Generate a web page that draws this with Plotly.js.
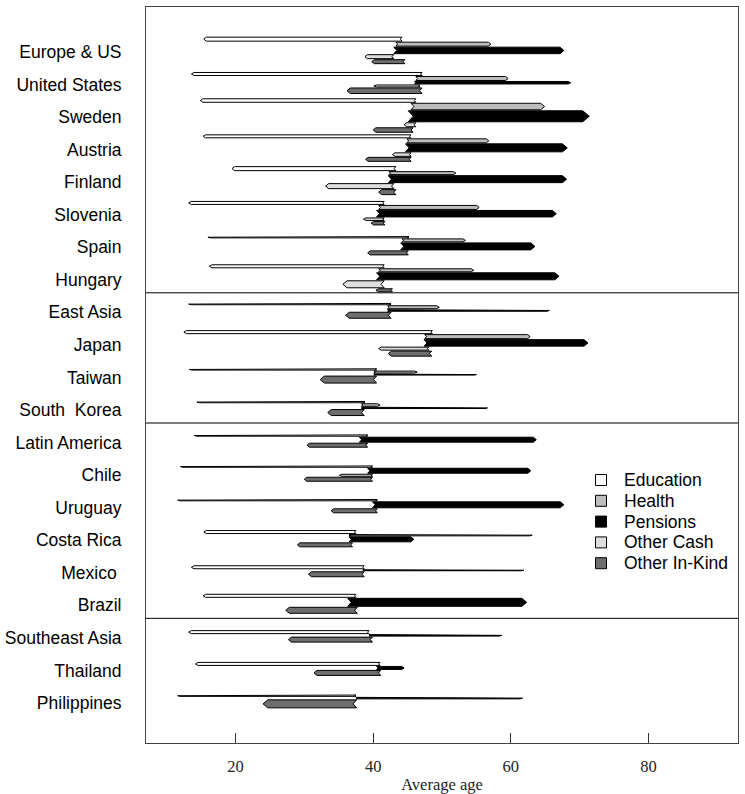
<!DOCTYPE html>
<html>
<head>
<meta charset="utf-8">
<script src="https://cdn.plot.ly/plotly-3.0.1.min.js"></script>
<style>html,body{margin:0;padding:0;background:#fff;}</style>
</head>
<body>
<div id="chart" style="width:745px;height:794px;"></div>
<script>
// ---- Data ----
const countries = ['Europe & US','United States','Sweden','Austria','Finland','Slovenia','Spain','Hungary',
  'East Asia','Japan','Taiwan','South\u00a0\u00a0Korea',
  'Latin America','Chile','Uruguay','Costa Rica','Mexico\u00a0','Brazil',
  'Southeast Asia','Thailand','Philippines'];
const groupEnds = [7, 11, 17]; // last row index of each region block

const categories = ['Education','Health','Pensions','Other Cash','Other In-Kind'];

// mean age of payers (arrow tail), mean age of recipients (arrow head), flow size
const eduFrom = [44.2,47.1,46.2,45.5,43.3,41.6,45.2,41.6,42.6,48.6,40.5,38.8,39.2,39.9,40.6,37.5,38.7,37.5,39.4,41.0,37.5];
const eduTo   = [15.4,13.6,14.9,15.3,19.5,13.2,16.0,16.2,13.2,12.5,13.3,14.4,14.0,12.0,11.6,15.4,13.6,15.3,13.2,14.2,11.6];
const eduFlow = [4,3,3.5,3,4,3,1.3,3,1.3,3,1.3,1.3,1.3,1.3,1.3,3,3,3,3,3,1.3];

const hlthFrom = [43.3,46.2,45.5,44.9,42.3,40.8,44.2,40.8,42.1,47.5,40.1,38.3,null,null,null,36.5,null,null,null,null,null];
const hlthTo   = [57.1,59.6,64.9,56.8,52.0,55.4,53.4,54.6,49.6,62.8,46.4,41.0,null,null,null,63.1,null,null,null,null,null];
const hlthFlow = [4,4,6.5,4,3,4,3,3,3,4,2,2.5,null,null,null,1.3,null,null,null,null,null];

const penFrom = [43.0,46.0,45.1,44.7,42.2,40.5,44.0,40.5,42.1,47.4,40.1,38.3,38.0,39.2,39.9,36.5,38.5,36.3,39.4,40.5,37.5];
const penTo   = [67.7,68.7,71.4,68.2,68.1,66.6,63.5,67.0,65.6,71.2,55.0,56.6,63.7,62.9,67.7,45.9,61.9,62.3,58.7,44.5,61.7];
const penFlow = [6.5,2.5,11,8,7,6.5,7,7,1.5,6.5,1.0,1.3,5,5,6,5,1.0,8,1.5,3,1.5];

const ocFrom = [43.0,46.8,46.2,45.5,43.0,41.6,null,41.6,null,48.1,null,null,null,39.9,null,null,null,null,null,null,null];
const ocTo   = [38.8,40.1,44.5,42.8,33.1,38.6,null,35.6,null,40.8,null,null,null,35.1,null,null,null,null,null,null,null];
const ocFlow = [4,2,4,3.5,5,2.5,null,7,null,3,null,null,null,2,null,null,null,null,null,null,null];

const oikFrom = [44.6,47.1,45.8,45.5,43.3,41.7,45.1,42.8,42.6,48.5,40.5,38.7,39.2,39.9,40.6,37.0,38.7,37.7,39.9,41.1,37.6];
const oikTo   = [39.8,36.2,40.0,38.9,40.8,39.7,39.2,40.4,36.0,42.2,32.3,33.4,30.4,30.0,33.9,29.0,30.6,27.3,27.7,31.4,24.0];
const oikFlow = [4,5.5,4.5,4,5,3.5,4,3,6,5,7,6,4,4,4,4,5,6,5,5,8];

const xTicks = [20,40,60,80];

// ---- Styling / layout ----
const fills = ['#ffffff','#bdbdbd','#000000','#dedede','#6e6e6e'];
const W = 745, H = 794;
const M = {l:146, r:7, t:7, b:51};
const xRange = [7, 93];
const yRange = [21.23, -1.38];
const plotW = W - M.l - M.r, plotH = H - M.t - M.b;
const pxPerX = plotW / (xRange[1]-xRange[0]);
const pxPerY = plotH / Math.abs(yRange[0]-yRange[1]);

const series = [
  [eduFrom, eduTo, eduFlow],
  [hlthFrom, hlthTo, hlthFlow],
  [penFrom, penTo, penFlow],
  [ocFrom, ocTo, ocFlow],
  [oikFrom, oikTo, oikFlow]
];

const gapPx = 1.0, shiftPx = -1.5;
const traces = [];
countries.forEach((c, i) => {
  const present = [];
  series.forEach((s, k) => { if (s[0][i] != null) present.push(k); });
  let total = 0;
  present.forEach((k, j) => { total += series[k][2][i] + (j ? gapPx : 0); });
  let cur = -total/2 + shiftPx;
  present.forEach((k) => {
    const [fr, to, fl] = series[k];
    const t = fl[i];
    const ycPx = cur + t/2;
    cur += t + gapPx;
    const xt = fr[i], xh = to[i];
    const dir = xh >= xt ? 1 : -1;
    const hl = Math.max(2.5, 0.6*t) / pxPerX;
    const nd = Math.max(1.5, 0.45*t) / pxPerX;
    const yc = i + ycPx / pxPerY;
    const hy = (t/2) / pxPerY;
    const xs = [xt, xh - dir*hl, xh, xh - dir*hl, xt, xt + dir*nd, xt];
    const ys = [yc-hy, yc-hy, yc, yc+hy, yc+hy, yc, yc-hy];
    traces.push({
      type:'scatter', mode:'lines', x: xs, y: ys, fill:'toself',
      fillcolor: fills[k], line:{color:'#000', width:1},
      hoverinfo:'skip', showlegend:false
    });
  });
});

// manual legend (boxes + text), in paper coordinates
const legX = (601 - M.l) / plotW, legTextX = (622 - M.l) / plotW;
const legTop = 480, legStep = 20.8, box = 11;
const shapes = groupEnds.map(g => ({
  type:'line', xref:'paper', x0:0, x1:1, yref:'y', y0:g+0.4, y1:g+0.4,
  line:{color:'#000', width:1}
}));
const annotations = [];
categories.forEach((name, k) => {
  const yc = legTop + k*legStep;
  const yp = (H - M.b - yc) / plotH;
  const hb = (box/2) / plotH, wb = (box/2) / plotW;
  shapes.push({type:'rect', xref:'paper', yref:'paper', x0:legX-wb, x1:legX+wb, y0:yp-hb, y1:yp+hb,
    fillcolor:fills[k], line:{color:'#000', width:1}});
  annotations.push({xref:'paper', yref:'paper', x:legTextX, y:yp, xanchor:'left', yanchor:'middle',
    text:name, showarrow:false,
    font:{family:'Liberation Sans, Arial, sans-serif', size:17.5, color:'#000'}});
});

const layout = {
  width: W, height: H,
  margin: {l:M.l, r:M.r, t:M.t, b:M.b, pad:0},
  paper_bgcolor:'#fff', plot_bgcolor:'#fff',
  showlegend: false,
  xaxis: {range:xRange, tickvals:xTicks, ticktext:xTicks.map(String), ticks:'inside', ticklen:10,
    tickcolor:'#333', tickwidth:1, showline:true, mirror:true, linecolor:'#444', linewidth:1,
    showgrid:false, zeroline:false, ticklabelstandoff:8,
    tickfont:{family:'Liberation Serif, Times New Roman, serif', size:16.5, color:'#222'},
    title:{text:'Average age', font:{family:'Liberation Serif, Times New Roman, serif', size:16.5, color:'#222'}, standoff:3}},
  yaxis: {range:yRange, tickvals:countries.map((c,i)=>i), ticktext:countries, ticks:'',
    showline:true, mirror:true, linecolor:'#444', linewidth:1, showgrid:false, zeroline:false,
    ticklabelstandoff:20,
    tickfont:{family:'Liberation Sans, Arial, sans-serif', size:17.5, color:'#000'}},
  shapes: shapes,
  annotations: annotations
};

Plotly.newPlot('chart', traces, layout, {displayModeBar:false, staticPlot:true});
</script>
</body>
</html>
